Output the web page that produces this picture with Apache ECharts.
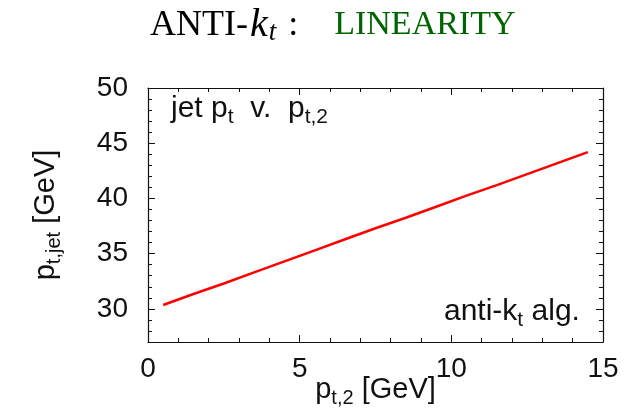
<!DOCTYPE html>
<html>
<head>
<meta charset="utf-8">
<script src="https://cdn.jsdelivr.net/npm/echarts@6/dist/echarts.min.js"></script>
<style>
html, body { margin: 0; padding: 0; background: #ffffff; }
#chart { width: 643px; height: 413px; }
</style>
</head>
<body>
<div id="chart"></div>
<script>
// second-jet transverse momentum (GeV)
const ptSecond = [0.5, 1.5, 2.5, 3.5, 4.5, 5.5, 6.5, 7.5, 8.5, 9.5, 10.5, 11.5, 12.5, 13.5, 14.5];
// reconstructed jet transverse momentum (GeV)
const ptJet = [30.35, 31.35, 32.3, 33.3, 34.3, 35.3, 36.3, 37.3, 38.25, 39.25, 40.25, 41.2, 42.2, 43.2, 44.2];
// labelled ticks on the vertical axis
const yMajorTicks = [30, 35, 40, 45, 50];

const SANS = '"Liberation Sans", Arial, Helvetica, sans-serif';
const SERIF = '"Liberation Serif", "Times New Roman", serif';

const chart = echarts.init(document.getElementById('chart'), null, { renderer: 'canvas' });

const subStyle = (size, pad) => ({ fontSize: size, fontFamily: SANS, color: '#111', padding: [pad, 0, 0, 0] });

const frameX = (pos, labels) => ({
  type: 'value',
  position: pos,
  min: 0,
  max: 15,
  interval: 5,
  nameMoveOverlap: false,
  axisLine: { show: true, onZero: false, lineStyle: { color: '#111', width: 1.2 } },
  axisTick: { show: true, inside: true, length: 7, lineStyle: { color: '#111', width: 1 } },
  minorTick: { show: true, splitNumber: 5, length: 4, lineStyle: { color: '#111', width: 1 } },
  splitLine: { show: false },
  minorSplitLine: { show: false },
  axisLabel: labels ? { show: true, fontSize: 28, fontFamily: SANS, color: '#111', margin: 13 } : { show: false }
});

const frameYMajor = (pos, labels) => ({
  type: 'value',
  position: pos,
  min: 27,
  max: 50,
  interval: 1,
  nameMoveOverlap: false,
  axisLine: { show: true, onZero: false, lineStyle: { color: '#111', width: 1.2 } },
  axisTick: { show: true, inside: true, length: 7, customValues: yMajorTicks, lineStyle: { color: '#111', width: 1 } },
  splitLine: { show: false },
  axisLabel: labels
    ? { show: true, customValues: yMajorTicks, fontSize: 28, fontFamily: SANS, color: '#111', margin: 20 }
    : { show: false }
});

const frameYMinor = (pos) => ({
  type: 'value',
  position: pos,
  min: 27,
  max: 50,
  interval: 1,
  axisLine: { show: false, onZero: false },
  axisTick: { show: true, inside: true, length: 4, lineStyle: { color: '#111', width: 1 } },
  splitLine: { show: false },
  axisLabel: { show: false }
});

const xAxes = [frameX('bottom', true), frameX('top', false)];
xAxes[0].name = '{p|p}{s|t,2}{p| [GeV]}';
xAxes[0].nameLocation = 'middle';
xAxes[0].nameGap = 30;
xAxes[0].nameTextStyle = {
  rich: { p: { fontSize: 29, fontFamily: SANS, color: '#111' }, s: subStyle(20, 16) }
};

const yAxes = [frameYMajor('left', true), frameYMinor('left'), frameYMajor('right', false), frameYMinor('right')];
yAxes[0].name = '{p|p}{s|t,jet}{p| [GeV]}';
yAxes[0].nameLocation = 'middle';
yAxes[0].nameGap = 84;
yAxes[0].nameTextStyle = {
  rich: { p: { fontSize: 29, fontFamily: SANS, color: '#111' }, s: subStyle(20, 16) }
};

const option = {
  animation: false,
  backgroundColor: '#ffffff',
  title: {
    text: '{a|ANTI-}{k|k}{t|t}{c|:}{g|LINEARITY}',
    left: 150,
    top: 5,
    padding: 0,
    textStyle: {
      rich: {
        a: { fontSize: 36, fontFamily: SERIF, fontWeight: 'normal', color: '#000' },
        k: { fontSize: 40, fontFamily: SERIF, fontStyle: 'italic', fontWeight: 'normal', color: '#000', padding: [0, 0, 0, 2] },
        t: { fontSize: 27, fontFamily: SERIF, fontStyle: 'italic', fontWeight: 'normal', color: '#000', padding: [14, 0, 0, 1] },
        c: { fontSize: 36, fontFamily: SERIF, fontWeight: 'normal', color: '#000', padding: [0, 0, 0, 12] },
        g: { fontSize: 34, fontFamily: SERIF, fontWeight: 'normal', color: '#006400', padding: [0, 0, 0, 36] }
      }
    }
  },
  grid: { left: 148, right: 40, top: 88, bottom: 71, containLabel: false, outerBoundsMode: 'none' },
  xAxis: xAxes,
  yAxis: yAxes,
  series: [{
    type: 'line',
    xAxisIndex: 0,
    yAxisIndex: 0,
    data: ptSecond.map((x, i) => [x, ptJet[i]]),
    showSymbol: false,
    symbol: 'none',
    lineStyle: { color: '#ff0000', width: 2.5 },
    itemStyle: { color: '#ff0000' }
  }],
  graphic: [
    {
      type: 'text',
      left: 171,
      top: 94,
      style: {
        text: '{p|jet p}{s|t}{p|  v.  p}{s|t,2}',
        rich: { p: { fontSize: 30, fontFamily: SANS, fill: '#111' }, s: { fontSize: 21, fontFamily: SANS, fill: '#111', padding: [17, 0, 0, 0] } }
      }
    },
    {
      type: 'text',
      left: 444,
      top: 297,
      style: {
        text: '{p|anti-k}{s|t}{p| alg.}',
        rich: { p: { fontSize: 30, fontFamily: SANS, fill: '#111' }, s: { fontSize: 21, fontFamily: SANS, fill: '#111', padding: [17, 0, 0, 0] } }
      }
    }
  ]
};

chart.setOption(option);
</script>
</body>
</html>
